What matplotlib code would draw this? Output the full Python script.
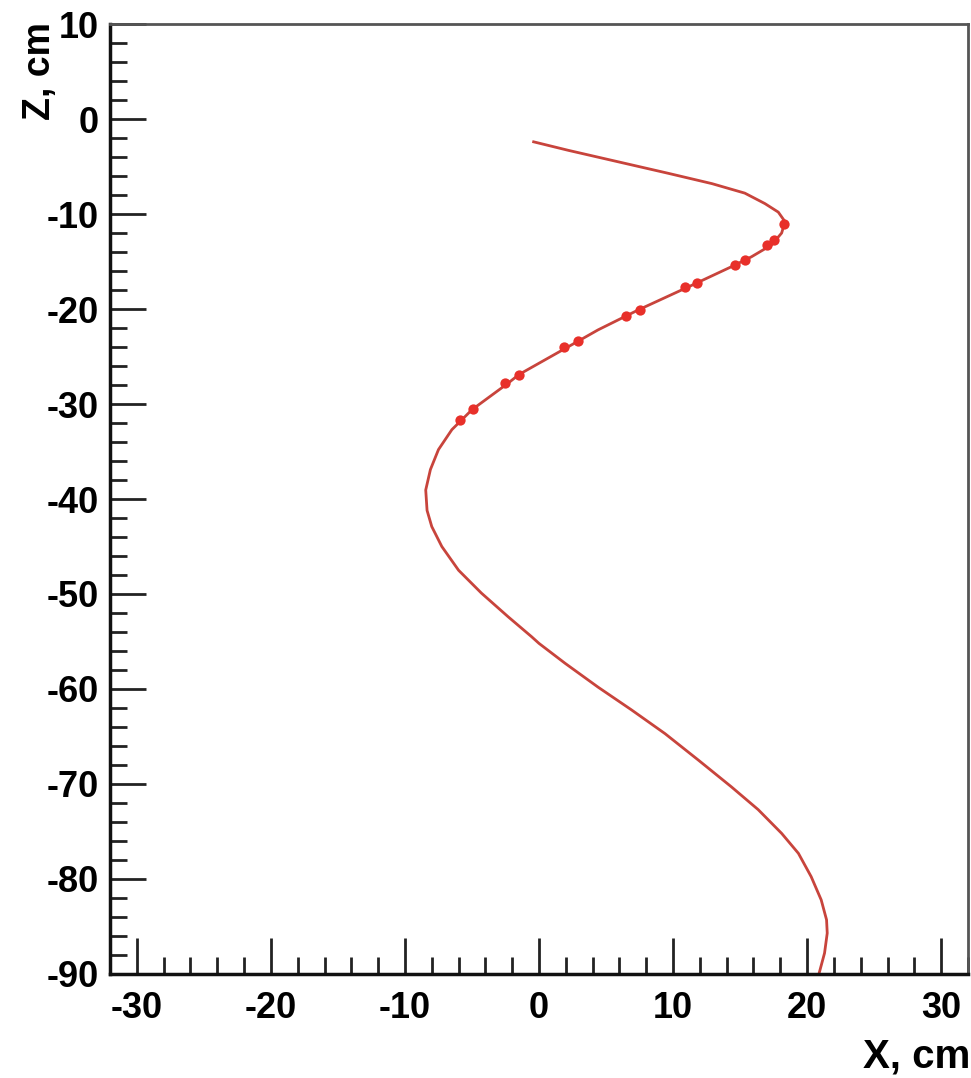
import matplotlib.pyplot as plt
from matplotlib.ticker import MultipleLocator

# Trajectory (X, Z in cm)
track_x = [-0.4, 2.2, 5.9, 9.6, 12.9, 15.35, 16.85, 17.85, 18.35, 18.1, 17.35, 15.85, 14.35,
           11.4, 7.4, 4.4, 2.9, -1.5, -2.3, -5.0, -6.5, -7.5, -8.1, -8.45, -8.35, -8.0,
           -7.25, -6.0, -4.3, -2.3, -0.55, 0.0, 1.95, 4.4, 6.9, 9.4, 11.9, 14.35, 16.35,
           18.1, 19.35, 20.3, 21.05, 21.45, 21.5, 21.3, 20.9]
track_z = [-2.4, -3.3, -4.5, -5.7, -6.8, -7.8, -8.9, -9.8, -10.8, -12.0, -13.25, -14.5, -15.55,
           -17.5, -20.1, -22.2, -23.4, -26.9, -27.8, -30.6, -32.7, -34.8, -36.9, -39.05, -41.2, -42.9,
           -45.0, -47.5, -49.9, -52.4, -54.5, -55.2, -57.3, -59.8, -62.2, -64.7, -67.5, -70.3, -72.7,
           -75.2, -77.3, -79.75, -82.2, -84.3, -85.7, -87.8, -89.9]

# Hits along the track
hit_x = [18.3, 17.5, 17.0, 15.4, 14.6, 11.75, 10.9, 7.5, 6.5, 2.9, 1.9, -1.5, -2.5, -4.9, -5.9]
hit_z = [-11.0, -12.7, -13.3, -14.8, -15.4, -17.3, -17.7, -20.1, -20.7, -23.4, -24.0, -26.9, -27.8, -30.5, -31.7]

plt.rcParams['font.family'] = ['Liberation Sans', 'DejaVu Sans']
plt.rcParams['font.weight'] = 'bold'
plt.rcParams['axes.unicode_minus'] = False

fig = plt.figure(figsize=(9.71, 10.78), dpi=100)
ax = fig.add_axes([0.1133, 0.0965, 0.8836, 0.8812])

ax.plot(track_x, track_z, color='#c8443c', linewidth=2, solid_joinstyle='round')
ax.scatter(hit_x, hit_z, s=55, color='#e8302a', zorder=3, linewidths=0)

ax.set_xlim(-32, 32)
ax.set_ylim(-90, 10)

ax.xaxis.set_major_locator(MultipleLocator(10))
ax.xaxis.set_minor_locator(MultipleLocator(2))
ax.yaxis.set_major_locator(MultipleLocator(10))
ax.yaxis.set_minor_locator(MultipleLocator(2))

ax.tick_params(which='both', direction='in', top=False, right=False, width=2, color='#222222')
ax.tick_params(which='major', length=26, labelsize=26, pad=12)
ax.tick_params(which='minor', length=12)
ax.tick_params(axis='y', which='major', pad=8)

for side in ['left', 'bottom']:
    ax.spines[side].set_linewidth(2.5)
    ax.spines[side].set_color('#111111')
for side in ['top', 'right']:
    ax.spines[side].set_linewidth(2)
    ax.spines[side].set_color('#555555')

fig.text(40 / 971, 1 - 22 / 1078, 'Z, cm', rotation=90, ha='center', va='top',
         fontsize=27, fontweight='bold')
fig.text(0.999, 1 - 1067 / 1078, 'X, cm', ha='right', va='baseline',
         fontsize=29, fontweight='bold')

plt.savefig('out.png', dpi=100, facecolor='white')
